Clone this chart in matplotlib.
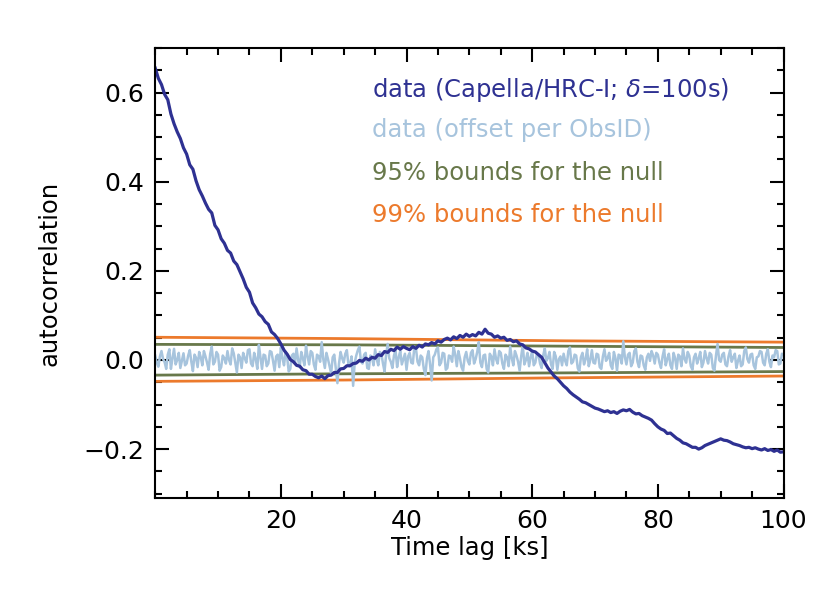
import numpy as np
import matplotlib
matplotlib.use("Agg")
import matplotlib.pyplot as plt
from matplotlib.ticker import MultipleLocator


capella_acf = [
    0.655, 0.632, 0.618, 0.596, 0.584, 0.552, 0.530, 0.512, 0.497, 0.476,
    0.462, 0.438, 0.428, 0.402, 0.382, 0.368, 0.352, 0.338, 0.330, 0.302,
    0.292, 0.272, 0.262, 0.246, 0.240, 0.222, 0.214, 0.198, 0.182, 0.163,
    0.152, 0.128, 0.117, 0.103, 0.097, 0.086, 0.080, 0.063, 0.057, 0.048,
    0.036, 0.022, 0.013, 0.001, -0.004, -0.012, -0.014, -0.022, -0.024, -0.032,
    -0.032, -0.037, -0.040, -0.036, -0.042, -0.035, -0.034, -0.028, -0.028, -0.020,
    -0.019, -0.013, -0.013, -0.008, -0.007, -0.001, -0.003, 0.004, 0.000, 0.006,
    0.004, 0.012, 0.010, 0.019, 0.017, 0.024, 0.021, 0.029, 0.024, 0.030,
    0.026, 0.023, 0.030, 0.026, 0.033, 0.029, 0.036, 0.034, 0.039, 0.036,
    0.043, 0.040, 0.046, 0.049, 0.045, 0.052, 0.048, 0.055, 0.051, 0.058,
    0.053, 0.057, 0.054, 0.062, 0.058, 0.069, 0.060, 0.058, 0.051, 0.054,
    0.049, 0.051, 0.044, 0.046, 0.041, 0.043, 0.036, 0.034, 0.027, 0.025,
    0.020, 0.018, 0.012, 0.006, -0.006, -0.018, -0.027, -0.036, -0.042, -0.050,
    -0.058, -0.064, -0.072, -0.078, -0.083, -0.088, -0.094, -0.096, -0.100, -0.104,
    -0.108, -0.110, -0.113, -0.116, -0.114, -0.118, -0.116, -0.120, -0.115, -0.112,
    -0.114, -0.111, -0.117, -0.121, -0.120, -0.125, -0.128, -0.131, -0.135, -0.143,
    -0.150, -0.155, -0.158, -0.165, -0.164, -0.170, -0.176, -0.180, -0.186, -0.188,
    -0.192, -0.196, -0.196, -0.200, -0.197, -0.192, -0.189, -0.186, -0.183, -0.180,
    -0.177, -0.180, -0.181, -0.184, -0.188, -0.190, -0.192, -0.195, -0.197, -0.196,
    -0.199, -0.197, -0.200, -0.202, -0.199, -0.203, -0.201, -0.205, -0.202, -0.207,
    -0.206,
]

# same data after removing an offset per ObsID, sampled every 0.25 ks
offset_acf = [
    0.010, -0.006, -0.015, 0.008, 0.020, 0.002, -0.005, -0.020, 0.012, 0.024,
    -0.020, 0.004, 0.025, -0.010, 0.000, 0.016, -0.018, -0.002, 0.015, -0.012,
    -0.008, 0.010, 0.022, -0.004, -0.025, 0.012, 0.005, -0.016, 0.018, 0.006,
    -0.012, 0.020, 0.008, -0.006, -0.022, 0.014, 0.030, -0.010, -0.004, 0.018,
    0.012, -0.024, -0.016, 0.010, 0.004, -0.008, 0.020, 0.000, -0.010, 0.026,
    0.015, -0.006, -0.028, 0.012, 0.006, -0.018, 0.016, 0.004, -0.006, 0.022,
    0.024, -0.008, -0.014, 0.016, 0.002, -0.020, 0.034, 0.006, -0.020, 0.012,
    0.010, -0.014, -0.008, 0.020, 0.018, -0.002, -0.024, 0.008, 0.012, -0.016,
    0.028, 0.004, -0.012, 0.018, 0.006, -0.026, -0.020, 0.010, 0.014, -0.006,
    0.026, 0.000, -0.016, 0.018, 0.004, -0.012, 0.032, 0.008, -0.010, 0.020,
    0.016, -0.010, -0.022, 0.012, 0.008, -0.004, 0.040, 0.002, -0.018, 0.016,
    0.002, -0.014, -0.030, 0.006, 0.012, -0.020, -0.052, -0.008, 0.018, 0.004,
    -0.006, 0.014, 0.022, -0.010, -0.014, 0.008, -0.058, -0.006, 0.010, 0.022,
    0.030, -0.004, -0.008, 0.012, 0.016, -0.018, -0.020, 0.010, 0.006, -0.012,
    0.024, 0.002, -0.012, 0.018, 0.014, -0.008, -0.026, 0.012, 0.036, 0.004,
    -0.004, -0.018, 0.010, 0.022, -0.016, 0.006, 0.020, -0.010, 0.002, 0.014,
    -0.022, 0.008, 0.016, -0.006, -0.008, 0.030, 0.026, -0.004, -0.012, 0.010,
    0.006, -0.020, -0.034, 0.004, 0.020, -0.010, -0.046, 0.006, 0.012, 0.024,
    0.028, -0.012, -0.006, 0.016, 0.014, -0.022, -0.018, 0.010, 0.008, -0.004,
    0.030, 0.012, -0.014, 0.020, 0.004, -0.016, -0.024, 0.006, 0.018, -0.002,
    -0.010, 0.016, 0.022, -0.008, 0.002, 0.018, 0.040, -0.006, -0.016, 0.010,
    0.012, -0.020, -0.028, 0.014, 0.008, -0.012, 0.024, 0.002, -0.008, 0.020,
    0.016, -0.008, -0.020, 0.012, 0.006, -0.014, 0.030, 0.004, -0.012, 0.020,
    0.010, -0.004, -0.024, 0.008, 0.034, -0.010, 0.000, 0.016, -0.014, 0.006,
    0.020, -0.012, -0.006, 0.014, 0.012, -0.008, -0.018, 0.010, 0.026, -0.002,
    0.004, 0.018, -0.010, -0.020, 0.018, 0.008, -0.022, 0.002, 0.008, -0.012,
    0.014, -0.002, -0.012, 0.020, 0.028, -0.008, -0.004, 0.012, 0.010, -0.018,
    -0.026, 0.006, 0.016, -0.010, 0.002, 0.024, -0.014, 0.000, 0.022, -0.006,
    -0.008, 0.014, 0.012, -0.016, -0.020, 0.008, 0.024, -0.002, 0.004, 0.016,
    -0.012, -0.020, 0.018, 0.004, -0.024, 0.012, 0.010, -0.008, 0.042, 0.006,
    -0.010, 0.012, 0.016, -0.014, -0.006, 0.020, 0.026, -0.004, -0.016, 0.010,
    0.008, -0.012, -0.022, 0.006, 0.014, -0.002, 0.020, 0.010, -0.008, 0.016,
    0.012, -0.006, -0.018, 0.008, 0.024, -0.012, 0.002, 0.014, -0.012, -0.020,
    0.016, 0.004, -0.020, 0.012, 0.008, -0.014, 0.026, 0.002, -0.006, 0.018,
    0.010, -0.014, -0.022, 0.006, 0.014, -0.008, 0.004, 0.018, -0.016, -0.006,
    0.020, 0.004, -0.008, 0.016, 0.012, -0.018, -0.024, 0.010, 0.036, 0.000,
    -0.004, 0.012, 0.016, -0.010, -0.014, 0.008, 0.022, -0.004, 0.006, 0.014,
    -0.018, -0.002, 0.010, -0.014, -0.010, 0.020, 0.028, 0.002, -0.006, 0.012,
    0.014, -0.012, -0.020, 0.006, 0.008, 0.020, 0.018, -0.006, -0.012, 0.014,
    0.024, -0.004, -0.016, 0.010, 0.006, 0.022, 0.020, -0.010, -0.008, 0.014,
    0.012,
]

# null-hypothesis bounds
bound_lags = [0, 30, 65, 100]
bound95_hi = [0.035, 0.034, 0.031, 0.028]
bound95_lo = [-0.034, -0.031, -0.029, -0.026]
bound99_hi = [0.051, 0.048, 0.043, 0.040]
bound99_lo = [-0.048, -0.045, -0.040, -0.036]

labels = ['data (Capella/HRC-I; $\\delta$=100s)', 'data (offset per ObsID)',
          '95% bounds for the null', '99% bounds for the null']

DARK = '#2E3192'
LIGHT = '#A7C4DD'
GREEN = '#68784A'
ORANGE = '#EC7A2C'


def main():
    lag = np.linspace(0, 100, len(capella_acf))
    lag_fine = np.linspace(0, 100, len(offset_acf))

    fig = plt.figure(figsize=(8.3, 5.93), dpi=100)
    ax = fig.add_axes([0.187, 0.16, 0.757, 0.759])

    ax.plot(bound_lags, bound99_hi, color=ORANGE, lw=2)
    ax.plot(bound_lags, bound99_lo, color=ORANGE, lw=2)
    ax.plot(bound_lags, bound95_hi, color=GREEN, lw=2)
    ax.plot(bound_lags, bound95_lo, color=GREEN, lw=2)
    ax.plot(lag_fine, offset_acf, color=LIGHT, lw=1.8)
    ax.plot(lag, capella_acf, color=DARK, lw=2.3)

    ax.set_xlim(0, 100)
    ax.set_ylim(-0.31, 0.70)
    ax.set_xticks([20, 40, 60, 80, 100])
    ax.xaxis.set_minor_locator(MultipleLocator(5))
    ax.set_yticks([-0.2, 0.0, 0.2, 0.4, 0.6])
    ax.set_yticklabels(['\u22120.2', '0.0', '0.2', '0.4', '0.6'])
    ax.yaxis.set_minor_locator(MultipleLocator(0.05))
    ax.tick_params(which='both', direction='in', top=True, right=True,
                   width=1.5, labelsize=18)
    ax.tick_params(which='major', length=10, pad=8)
    ax.tick_params(which='minor', length=5)
    for s in ax.spines.values():
        s.set_linewidth(1.5)

    ax.set_xlabel('Time lag [ks]', fontsize=17.5, labelpad=2)
    ax.set_ylabel('autocorrelation', fontsize=17.5, labelpad=16)

    colors = [DARK, LIGHT, GREEN, ORANGE]
    ys = [0.906, 0.817, 0.723, 0.629]
    for txt, c, y in zip(labels, colors, ys):
        ax.text(0.345, y, txt, color=c, fontsize=17.5, transform=ax.transAxes,
                va='center', ha='left')

    fig.savefig('out.png', dpi=100)


if __name__ == '__main__':
    main()
